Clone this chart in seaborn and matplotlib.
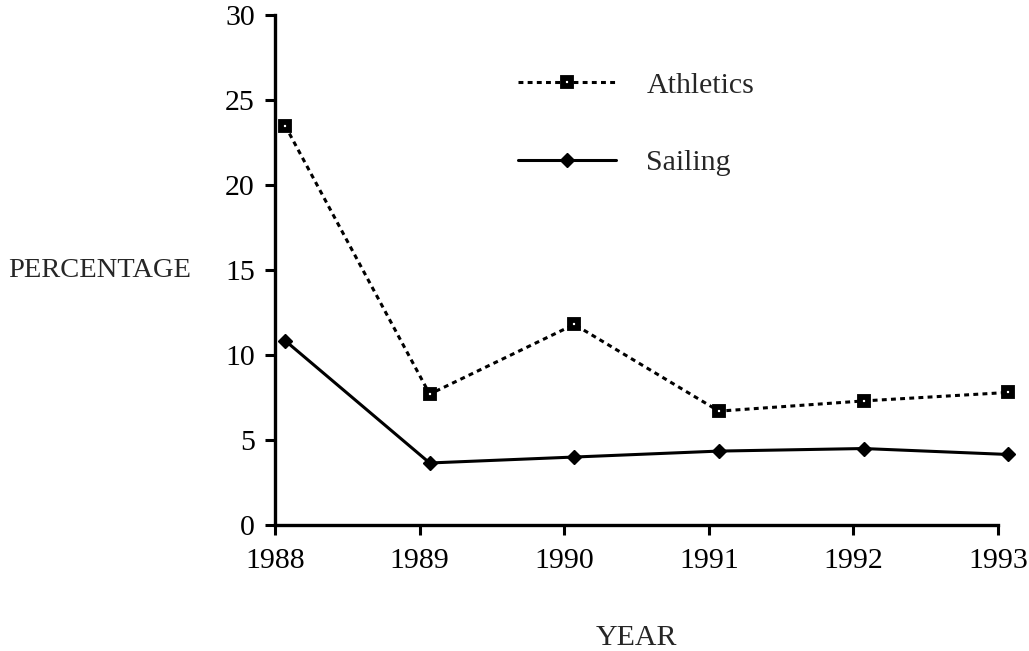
import numpy as np
import pandas as pd
import matplotlib
matplotlib.use("Agg")
import matplotlib.pyplot as plt
import seaborn as sns

# 数据
years = [1988, 1989, 1990, 1991, 1992, 1993]
athletics = [23.5, 7.7, 11.8, 6.7, 7.3, 7.8]
sailing = [10.85, 3.65, 4.0, 4.35, 4.5, 4.15]
y_ticks = [0, 5, 10, 15, 20, 25, 30]

sns.set_theme(style="ticks")
plt.rcParams['font.family'] = ['Liberation Serif', 'DejaVu Serif']

# 数据点在原图中略偏右于刻度
shift = 0.07
x_pts = np.array(years) + shift

fig = plt.figure(figsize=(10.29, 6.51), dpi=100)
ax = fig.add_axes([0.2672, 0.1935, 0.7027, 0.7834])

sns.lineplot(x=x_pts, y=athletics, ax=ax, color='black', lw=2.2,
             linestyle=(0, (1.6, 1.4)), marker='s', markersize=5.6,
             markerfacecolor='white', markeredgecolor='black',
             markeredgewidth=4.2, label='Athletics', clip_on=False)
sns.lineplot(x=x_pts, y=sailing, ax=ax, color='black', lw=2.2,
             marker='D', markersize=7.5, markerfacecolor='black',
             markeredgecolor='black', markeredgewidth=1,
             label='Sailing', clip_on=False)

ax.set_xlim(years[0], years[-1])
ax.set_ylim(0, 30)
ax.set_xticks(years)
ax.set_yticks(y_ticks)
sns.despine(ax=ax)
for s in ['left', 'bottom']:
    ax.spines[s].set_linewidth(2.4)
    ax.spines[s].set_color('black')
ax.tick_params(axis='both', direction='out', length=7.5, width=2.2,
               labelsize=21.5, colors='black')
ax.tick_params(axis='x', pad=9)
ax.tick_params(axis='y', pad=7)

ax.set_ylabel('PERCENTAGE', fontsize=20.5, rotation=0, ha='left', va='center')
ax.yaxis.set_label_coords(-0.369, 0.5)
ax.set_xlabel('YEAR', fontsize=21.5, va='center')
ax.xaxis.set_label_coords(0.5, -0.222)

ax.legend(loc='center left', bbox_to_anchor=(0.336, 0.786), frameon=False,
          fontsize=21.5, handlelength=3.3, handletextpad=1.0,
          labelspacing=1.7, borderpad=0, borderaxespad=0)

fig.savefig('out.png', dpi=100, facecolor='white')
